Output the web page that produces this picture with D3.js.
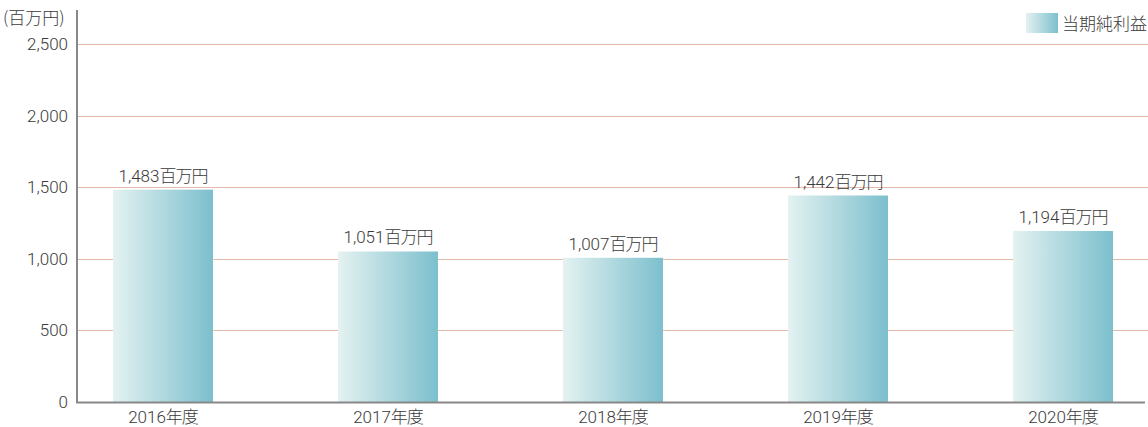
<!DOCTYPE html>
<html>
<head>
<meta charset="utf-8">
<script src="https://cdn.jsdelivr.net/npm/d3@7"></script>
<style>
  body { margin: 0; background: #fff; }
  text { font-family: "Roboto", "Noto Sans CJK JP", sans-serif; font-weight: 300; fill: #3a3a3a; }
</style>
</head>
<body>
<svg id="chart" width="1148" height="427"></svg>
<script>
// data
const years = ["2016年度", "2017年度", "2018年度", "2019年度", "2020年度"];
const profit = [1483, 1051, 1007, 1442, 1194];
const yTicks = [0, 500, 1000, 1500, 2000, 2500];
const unitLabel = "(百万円)";
const seriesName = "当期純利益";

const svg = d3.select("#chart");
const jp = "'Noto Sans CJK JP', sans-serif";

// gradient for bars
const defs = svg.append("defs");
const grad = defs.append("linearGradient").attr("id", "barGrad")
  .attr("x1", "0%").attr("x2", "100%").attr("y1", "0%").attr("y2", "0%");
grad.append("stop").attr("offset", "0%").attr("stop-color", "#e4f2f1");
grad.append("stop").attr("offset", "100%").attr("stop-color", "#7cbfcd");

var y = d3.scaleLinear().domain([0, 2500]).range([402, 44]);
var x = d3.scalePoint().domain(years).range([163, 1063]);
const barW = 100;

// gridlines
svg.append("g").selectAll("line")
  .data(yTicks.filter(d => d > 0))
  .join("line")
  .attr("x1", 77).attr("x2", 1148)
  .attr("y1", d => Math.round(y(d)) + 0.5).attr("y2", d => Math.round(y(d)) + 0.5)
  .attr("stroke", "#e3b9a9").attr("stroke-width", 1.2);

// y tick labels
svg.append("g").selectAll("text")
  .data(yTicks)
  .join("text")
  .attr("x", 68).attr("y", d => y(d) + 6)
  .attr("text-anchor", "end")
  .attr("font-size", 17)
  .text(d3.format(","));

svg.append("text")
  .attr("x", 3).attr("y", 24)
  .attr("font-size", 17)
  .style("font-family", jp)
  .text(unitLabel);

// bars
svg.append("g").selectAll("rect")
  .data(profit)
  .join("rect")
  .attr("x", (d, i) => x(years[i]) - barW / 2)
  .attr("y", d => y(d))
  .attr("width", barW)
  .attr("height", d => y(0) - y(d))
  .attr("fill", "url(#barGrad)");

// value labels
svg.append("g").selectAll("text")
  .data(profit)
  .join("text")
  .attr("x", (d, i) => x(years[i]))
  .attr("y", d => y(d) - 8)
  .attr("text-anchor", "middle")
  .attr("font-size", 17)
  .each(function(d) {
    const t = d3.select(this);
    t.append("tspan").text(d3.format(",")(d));
    t.append("tspan").style("font-family", jp).style("letter-spacing", "-1px").text("百万円");
  });

// axes lines
svg.append("line").attr("x1", 77).attr("x2", 77).attr("y1", 10).attr("y2", 403)
  .attr("stroke", "#888").attr("stroke-width", 2);
svg.append("line").attr("x1", 76).attr("x2", 1145).attr("y1", 402.5).attr("y2", 402.5)
  .attr("stroke", "#888").attr("stroke-width", 2);

// x labels
svg.append("g").selectAll("text")
  .data(years)
  .join("text")
  .attr("x", d => x(d))
  .attr("y", 423)
  .attr("text-anchor", "middle")
  .attr("font-size", 17)
  .each(function(d) {
    const t = d3.select(this);
    t.append("tspan").text(d.slice(0, 4));
    t.append("tspan").style("font-family", jp).style("letter-spacing", "-1px").text(d.slice(4));
  });

// legend
svg.append("rect").attr("x", 1026).attr("y", 13).attr("width", 32).attr("height", 20)
  .attr("fill", "url(#barGrad)");
svg.append("text").attr("x", 1062).attr("y", 30)
  .attr("font-size", 17)
  .style("font-family", jp)
  .text(seriesName);
</script>
</body>
</html>
